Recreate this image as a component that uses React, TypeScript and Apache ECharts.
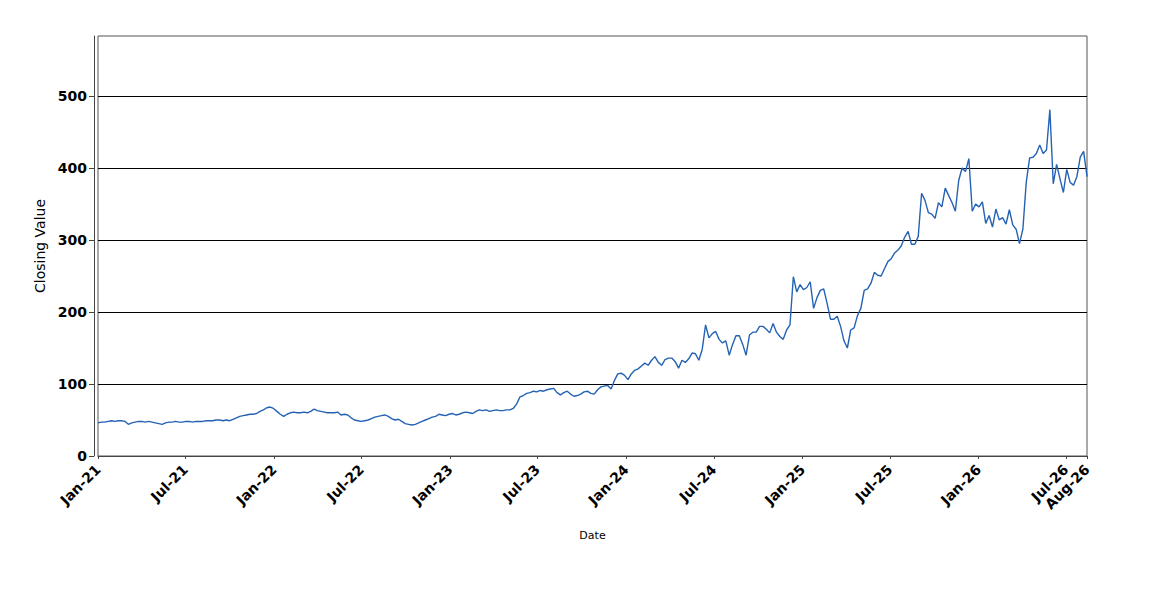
import React, { useEffect, useRef } from "react";
import * as echarts from "echarts";

// Weekly sampling grid of the closing series
const START_DATE = "2021-01-01";
const STEP_DAYS = 7;

// Weekly closing values
const CLOSING_VALUES = [
  46, 47, 47, 48, 49, 48, 49, 49, 48, 44,
  46, 47, 48, 48, 47, 48, 47, 46, 45, 44,
  46, 47, 47, 48, 47, 47, 48, 48, 47, 48,
  48, 48, 49, 49, 49, 50, 50, 49, 50, 49,
  51, 53, 55, 56, 57, 58, 58, 59, 62, 64,
  67, 68, 66, 62, 58, 55, 58, 60, 61, 60,
  60, 61, 60, 62, 65, 63, 62, 61, 60, 60,
  60, 61, 57, 58, 57, 53, 50, 49, 48, 49,
  50, 52, 54, 55, 56, 57, 55, 52, 50, 51,
  48, 45, 44, 43, 44, 46, 48, 50, 52, 54,
  55, 58, 57, 56, 58, 59, 57, 58, 60, 61,
  60, 59, 62, 64, 63, 64, 62, 63, 64, 63,
  63, 64, 64, 66, 72, 82, 84, 87, 88, 90,
  89, 91, 90, 92, 93, 94, 88, 85, 88, 90,
  86, 83, 84, 86, 89, 90, 87, 86, 92, 96,
  97, 98, 93, 105, 114, 115, 112, 106, 114, 119,
  121, 125, 129, 126, 133, 138, 130, 126, 134, 136,
  136, 131, 122, 133, 130, 135, 143, 142, 133, 148,
  182, 164, 170, 173, 162, 157, 160, 140, 155, 167,
  167, 155, 140, 168, 172, 172, 180, 180, 176, 171,
  184, 172, 166, 162, 175, 182, 249, 228, 238, 231,
  234, 242, 205, 220, 230, 232, 212, 190, 190, 194,
  180, 160, 150, 175, 178, 195, 205, 230, 232, 240,
  255, 251, 250, 260, 270, 274, 282, 286, 292, 304,
  312, 294, 294, 305, 365, 355, 338, 336, 330, 352,
  346, 372, 362, 352, 340, 383, 400, 395, 413, 340,
  350, 346, 353, 323, 334, 318, 343, 328, 331, 322,
  342, 321, 315, 295, 315, 380, 414, 415, 420, 432,
  420, 425, 481, 378, 405, 385, 366, 398, 380, 376,
  388, 415, 423, 388,
];

// Axis tick labels
const X_TICK_DATES = [
  "2021-01-01", "2021-07-01", "2022-01-01", "2022-07-01",
  "2023-01-01", "2023-07-01", "2024-01-01", "2024-07-01",
  "2025-01-01", "2025-07-01", "2026-01-01", "2026-07-01",
  "2026-08-14",
];
const Y_TICKS = [0, 100, 200, 300, 400, 500];
const Y_MAX = 583.33;
const MONTHS = ["Jan", "Feb", "Mar", "Apr", "May", "Jun", "Jul", "Aug", "Sep", "Oct", "Nov", "Dec"];

const DAY_MS = 86400000;

function fmtDate(t: number): string {
  const d = new Date(t);
  return MONTHS[d.getUTCMonth()] + "-" + String(d.getUTCFullYear() % 100).padStart(2, "0");
}

export default function App() {
  const ref = useRef<HTMLDivElement>(null);
  useEffect(() => {
    if (!ref.current) return;
    const chart = echarts.init(ref.current, null, { renderer: "svg" });
    const start = Date.parse(START_DATE);
    const data = CLOSING_VALUES.map((v, i) => [start + i * STEP_DAYS * DAY_MS, v]);
    const xTicks = X_TICK_DATES.map((d) => Date.parse(d));
    const font = "DejaVu Sans";
    chart.setOption({
      animation: false,
      backgroundColor: "#ffffff",
      grid: {
        left: 98,
        top: 36,
        width: 989,
        height: 420,
        show: true,
        borderColor: "#555555",
        borderWidth: 1,
        backgroundColor: "#ffffff",
      },
      xAxis: {
        type: "value",
        min: xTicks[0],
        max: xTicks[xTicks.length - 1],
        offset: 5,
        name: "Date",
        nameLocation: "middle",
        nameGap: 69,
        nameTextStyle: { fontFamily: font, fontSize: 11, color: "#000" },
        axisLine: { show: true, lineStyle: { color: "#444444", width: 1 } },
        axisTick: { show: true, length: 3, customValues: xTicks, lineStyle: { color: "#444444" } },
        axisLabel: {
          customValues: xTicks,
          rotate: 45,
          margin: 6,
          formatter: (v: number) => fmtDate(v),
          fontFamily: font,
          fontSize: 14,
          fontWeight: "bold",
          color: "#000",
        },
        splitLine: { show: false },
      },
      yAxis: {
        type: "value",
        min: 0,
        max: Y_MAX,
        interval: 100,
        offset: 4,
        name: "Closing Value",
        nameLocation: "middle",
        nameGap: 41,
        nameTextStyle: { fontFamily: font, fontSize: 14, color: "#000" },
        axisLine: { show: true, lineStyle: { color: "#444444", width: 1 } },
        axisTick: { show: true, length: 5, customValues: Y_TICKS, lineStyle: { color: "#444444" } },
        axisLabel: {
          customValues: Y_TICKS,
          margin: 7,
          fontFamily: font,
          fontSize: 14,
          fontWeight: "bold",
          color: "#000",
        },
        splitLine: { show: true, lineStyle: { color: "#000000", width: 1 } },
      },
      series: [
        {
          type: "line",
          data,
          showSymbol: false,
          symbol: "none",
          lineStyle: { color: "#2462b4", width: 1.4 },
          itemStyle: { color: "#2462b4" },
        },
      ],
    });
    return () => chart.dispose();
  }, []);
  return (
    <div
      ref={ref}
      style={{ position: "fixed", left: 0, top: 0, width: 1150, height: 600, background: "#fff" }}
    />
  );
}
